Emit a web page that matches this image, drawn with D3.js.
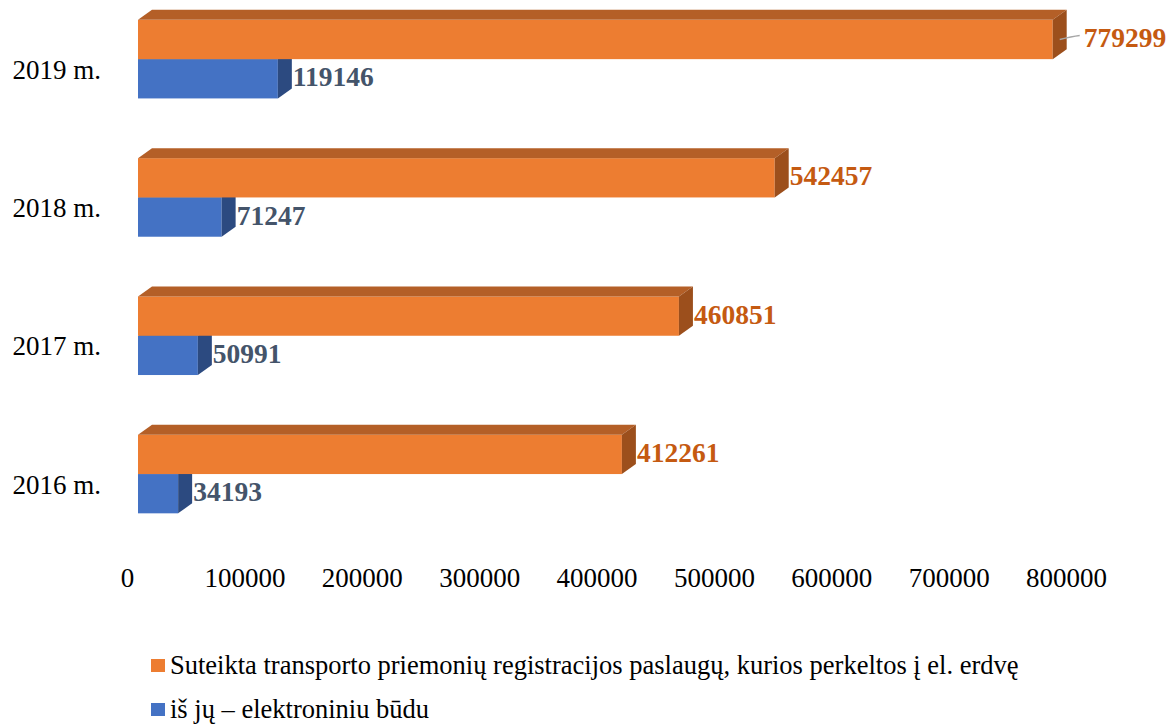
<!DOCTYPE html>
<meta charset="utf-8">
<style>
  body, html { margin:0; padding:0; background:#fff; }
  svg text { font-family: "Times New Roman", Times, "Liberation Serif", "DejaVu Serif", serif; }
</style>
<body>
<svg id="chart" width="1167" height="725"></svg>
<script src="https://d3js.org/d3.v7.min.js"></script>
<script>

var years = ["2019 m.", "2018 m.", "2017 m.", "2016 m."];
var totalValues = [779299, 542457, 460851, 412261];
var electronicValues = [119146, 71247, 50991, 34193];
var seriesNames = ["Suteikta transporto priemonių registracijos paslaugų, kurios perkeltos į el. erdvę",
                   "iš jų – elektroniniu būdu"];
var xTicks = [0, 100000, 200000, 300000, 400000, 500000, 600000, 700000, 800000];

var colors = [
  {front: "#ED7D31", top: "#B45F27", side: "#9C4F1C", label: "#C55A11"},
  {front: "#4472C4", top: "#30548F", side: "#2C4A80", label: "#44546A"}
];

var serif = "'Times New Roman', Times, 'Liberation Serif', serif";

// depth of the fake 3d
var dx = 14, dy = -10;

var svg = d3.select("#chart");

var x = d3.scaleLinear().domain([0, 800000]).range([138, 1077]);

var y0 = d3.scaleBand()
    .domain(years)
    .range([-10, 543.2])
    .paddingInner(0.432)
    .paddingOuter(0.216);

var y1 = d3.scaleBand()
    .domain([0, 1])
    .range([0, y0.bandwidth()]);

var rows = years.map(function(d, i) {
  return {year: d, vals: [totalValues[i], electronicValues[i]]};
});

function bar3d(g, v, yt, yb, c) {
  var x0 = x(0), x1 = x(v);
  g.append("rect")
      .attr("x", x0).attr("y", yt)
      .attr("width", x1 - x0).attr("height", yb - yt)
      .attr("fill", c.front);
  g.append("polygon")
      .attr("points", [[x0, yt], [x0 + dx, yt + dy], [x1 + dx, yt + dy], [x1, yt]].join(" "))
      .attr("fill", c.top);
  g.append("polygon")
      .attr("points", [[x1, yt], [x1 + dx, yt + dy], [x1 + dx, yb + dy], [x1, yb]].join(" "))
      .attr("fill", c.side);
}

var groups = svg.selectAll(".grp")
    .data(rows)
    .enter().append("g")
    .attr("class", "grp")
    .attr("transform", function(d) { return "translate(0," + y0(d.year) + ")"; });

groups.each(function(d) {
  var g = d3.select(this);
  // draw the blue one first, orange sits in front of it
  [1, 0].forEach(function(s) {
    var yt = y1(s), yb = y1(s) + y1.bandwidth();
    bar3d(g, d.vals[s], yt, yb, colors[s]);
  });
  [0, 1].forEach(function(s) {
    var v = d.vals[s];
    var lx = x(v) + dx + 1;
    var ly = y1(s) + y1.bandwidth() / 2 - 2;
    if (v > 700000) {
      // pushed outside with a leader line
      g.append("path")
          .attr("d", "M" + (x(v) + dx / 2) + "," + (ly + 2) + " Q" + (lx + 4) + "," + (ly - 1) + " " + (lx + 12) + "," + (ly - 2))
          .attr("fill", "none")
          .attr("stroke", "#A6A6A6")
          .attr("stroke-width", 1.5);
      lx += 16;
    }
    g.append("text")
        .attr("x", lx)
        .attr("y", ly)
        .attr("dy", "0.35em")
        .attr("fill", colors[s].label)
        .style("font-family", serif)
        .style("font-size", "27.5px")
        .style("font-weight", "bold")
        .text(v);
  });
});

// category labels
svg.selectAll(".cat")
    .data(years)
    .enter().append("text")
    .attr("class", "cat")
    .attr("x", 101)
    .attr("y", function(d) { return y0(d) + y0.bandwidth() / 2 + 10; })
    .attr("dy", "0.35em")
    .attr("text-anchor", "end")
    .attr("fill", "#000")
    .style("font-family", serif)
    .style("font-size", "27px")
    .text(function(d) { return d; });

// value axis
var xAxis = d3.axisBottom(x)
    .tickValues(xTicks)
    .tickSize(0)
    .tickPadding(0)
    .tickFormat(d3.format("d"));

var ax = svg.append("g")
    .attr("transform", "translate(-11,568)")
    .call(xAxis);
ax.attr("font-family", null);
ax.select(".domain").remove();
ax.selectAll("text")
    .attr("fill", "#000")
    .style("font-size", "27px")
    .style("font-family", serif);

// legend
var legend = svg.selectAll(".legend")
    .data(seriesNames)
    .enter().append("g")
    .attr("class", "legend")
    .attr("transform", function(d, i) { return "translate(151," + (659 + i * 44) + ")"; });

legend.append("rect")
    .attr("width", 14)
    .attr("height", 13)
    .attr("fill", function(d, i) { return colors[i].front; });

legend.append("text")
    .attr("x", 19)
    .attr("y", 15)
    .attr("fill", "#000")
    .style("font-family", serif)
    .style("font-size", "26.5px")
    .text(function(d) { return d; });

</script>
</body>
